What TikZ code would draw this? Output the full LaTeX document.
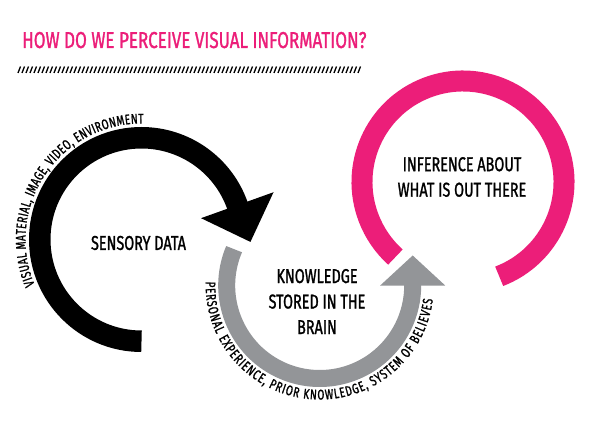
\documentclass[tikz,border=0pt]{standalone}
\usepackage{fontspec}
\setmainfont{Fira Sans}
\newfontfamily\cond[FakeStretch=0.72,FakeBold=1.2]{Fira Sans}
\newfontfamily\condt[FakeStretch=0.74,FakeBold=1.2]{Fira Sans}
\usetikzlibrary{decorations.text}
\definecolor{hotpink}{RGB}{236,30,121}
\definecolor{greyarc}{RGB}{147,149,152}
\begin{document}
\begin{tikzpicture}[x=1pt,y=1pt,
  lbl/.style={font=\cond\fontsize{20}{25.5}\selectfont, align=center, inner sep=0pt, text=black},
  hatch/.style={line width=1.3pt, black}]
\fill[white] (0,0) rectangle (600,429);
\useasboundingbox (0,0) rectangle (600,429);

% title
\node[font=\condt\fontsize{23}{26}\selectfont, text=hotpink, anchor=base west, inner sep=0pt] (title) at (22,381) {HOW DO WE PERCEIVE VISUAL INFORMATION?};
\foreach \i in {0,...,85} \draw[hatch] (18+4*\i,356) -- ++(2.5,6.5);

\coordinate (bc) at (141.5,189.5);
\coordinate (gc) at (319.7,143.5);
\coordinate (pc) at (463,247);

% black arrow
\draw[line width=21.5pt, black] ([shift={(-90:101.75)}]bc) arc[start angle=-90, end angle=-340.8, radius=101.75];
\path (bc) ++(19.7:63.25) coordinate (bh1)
      (bc) ++(19.7:140.25) coordinate (bh2)
      (bc) ++(19.7:101.75) ++(-70.3:39) coordinate (bt);
\fill[black] (bh1) -- (bt) -- (bh2) -- cycle;

% grey arrow
\draw[line width=17pt, greyarc] ([shift={(157:93)}]gc) arc[start angle=157, end angle=360.6, radius=93];
\path (gc) ++(0:60.5) coordinate (gh1)
      (gc) ++(0:125.5) coordinate (gh2)
      (gc) ++(0:93) ++(90:30) coordinate (gt);
\fill[greyarc] (gh1) -- (gt) -- (gh2) -- cycle;

% pink arc
\draw[line width=21pt, hotpink] ([shift={(-69:101)}]pc) arc[start angle=-69, end angle=228, radius=101];

% labels
\node[lbl] (sensory) at (138.5,186) {SENSORY DATA};
\node[lbl] (knowledge) at (317,127.5) {KNOWLEDGE\\STORED IN THE\\BRAIN};
\node[lbl] (inference) at (462,252) {INFERENCE ABOUT\\WHAT IS OUT THERE};

% curved texts
\path[decorate, decoration={text along path, text align=fit to path,
  text={|\cond\fontsize{14}{16}\selectfont|VISUAL MATERIAL, IMAGE, VIDEO, ENVIRONMENT}}]
  ([shift={(203:116)}]bc) arc[start angle=203, end angle=89, radius=116];
\path[decorate, decoration={text along path, text align=fit to path,
  text={|\cond\fontsize{14}{16}\selectfont|PERSONAL EXPERIENCE, PRIOR KNOWLEDGE, SYSTEM OF BELIEVES}}]
  ([shift={(178:114)}]gc) arc[start angle=178, end angle=353, radius=114];
\end{tikzpicture}
\end{document}
